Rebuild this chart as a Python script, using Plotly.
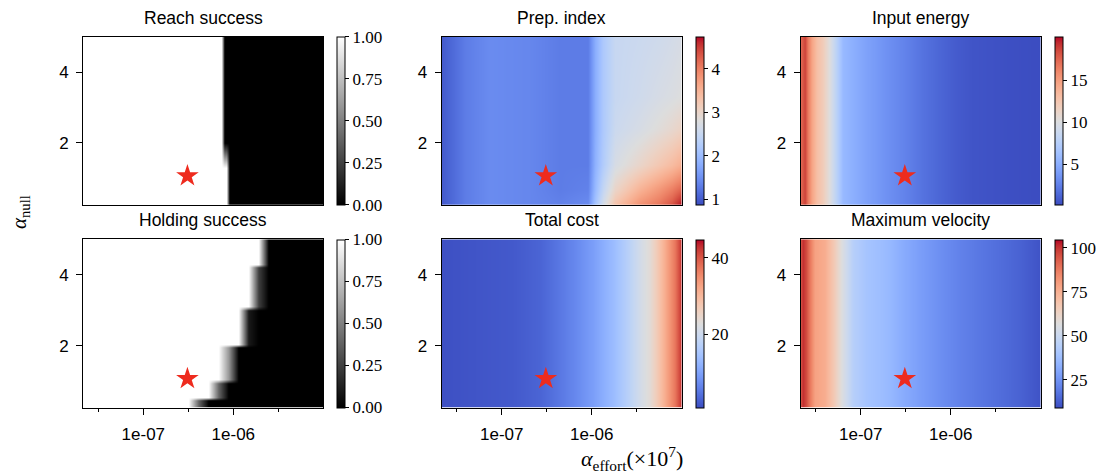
import plotly.graph_objects as go

W, H = 1111, 474

# ---------------- data (x = log10 alpha_effort, y = alpha_null) ----------------
reach_x = [-7.70, -6.135, -6.100, -6.075, -6.045, -4.95]
reach_y = [0.25, 1.30, 2.00, 5.00]
reach_z = [
    [1, 1, 1, 1, 0, 0],
    [1, 1, 1, 1, 0, 0],
    [1, 1, 0, 0, 0, 0],
    [1, 1, 0, 0, 0, 0],
]

hold_x = [-7.611, -7.500, -7.389, -7.278, -7.167, -7.056, -6.944, -6.833,
          -6.722, -6.611, -6.500, -6.389, -6.278, -6.167, -6.056, -5.944,
          -5.833, -5.722, -5.611, -5.500, -5.389, -5.278, -5.167, -5.056]
hold_y = [0.25, 0.45, 0.55, 0.95, 1.05, 1.95, 2.05, 3.00, 3.10, 4.20, 4.30, 5.00]
hold_z = [
    [1, 1, 1, 1, 1, 1, 1, 1, 1, 1, 1, 0.4, 0, 0, 0, 0, 0, 0, 0, 0, 0, 0, 0, 0],
    [1, 1, 1, 1, 1, 1, 1, 1, 1, 1, 1, 0.4, 0, 0, 0, 0, 0, 0, 0, 0, 0, 0, 0, 0],
    [1, 1, 1, 1, 1, 1, 1, 1, 1, 1, 1, 1, 1, 0.4, 0, 0, 0, 0, 0, 0, 0, 0, 0, 0],
    [1, 1, 1, 1, 1, 1, 1, 1, 1, 1, 1, 1, 1, 0.4, 0, 0, 0, 0, 0, 0, 0, 0, 0, 0],
    [1, 1, 1, 1, 1, 1, 1, 1, 1, 1, 1, 1, 1, 1, 0.6, 0, 0, 0, 0, 0, 0, 0, 0, 0],
    [1, 1, 1, 1, 1, 1, 1, 1, 1, 1, 1, 1, 1, 1, 0.6, 0, 0, 0, 0, 0, 0, 0, 0, 0],
    [1, 1, 1, 1, 1, 1, 1, 1, 1, 1, 1, 1, 1, 1, 1, 1, 0.1, 0, 0, 0, 0, 0, 0, 0],
    [1, 1, 1, 1, 1, 1, 1, 1, 1, 1, 1, 1, 1, 1, 1, 1, 0.1, 0, 0, 0, 0, 0, 0, 0],
    [1, 1, 1, 1, 1, 1, 1, 1, 1, 1, 1, 1, 1, 1, 1, 1, 1, 0.25, 0, 0, 0, 0, 0, 0],
    [1, 1, 1, 1, 1, 1, 1, 1, 1, 1, 1, 1, 1, 1, 1, 1, 1, 0.25, 0, 0, 0, 0, 0, 0],
    [1, 1, 1, 1, 1, 1, 1, 1, 1, 1, 1, 1, 1, 1, 1, 1, 1, 1, 0, 0, 0, 0, 0, 0],
    [1, 1, 1, 1, 1, 1, 1, 1, 1, 1, 1, 1, 1, 1, 1, 1, 1, 1, 0, 0, 0, 0, 0, 0],
]

prep_x = [-7.663, -7.574, -7.408, -7.130, -6.686, -6.352, -6.041,
          -5.963, -5.874, -5.741, -5.463, -5.241, -5.108, -5.008]
prep_y = [0.25, 0.70, 1.40, 2.40, 3.30, 5.00]
prep_z = [
    [1.00, 1.10, 1.30, 1.45, 1.40, 1.35, 1.45, 2.10, 2.65, 3.30, 3.85, 4.10, 4.35, 4.72],
    [1.00, 1.10, 1.30, 1.45, 1.40, 1.30, 1.35, 1.95, 2.45, 3.00, 3.50, 3.80, 4.00, 4.20],
    [1.00, 1.10, 1.30, 1.45, 1.40, 1.30, 1.30, 1.85, 2.25, 2.70, 3.00, 3.25, 3.40, 3.55],
    [1.00, 1.10, 1.30, 1.45, 1.40, 1.30, 1.30, 1.80, 2.20, 2.55, 2.70, 2.85, 2.95, 3.05],
    [1.00, 1.10, 1.30, 1.45, 1.40, 1.30, 1.30, 1.80, 2.20, 2.50, 2.60, 2.70, 2.75, 2.80],
    [1.00, 1.10, 1.30, 1.45, 1.40, 1.30, 1.30, 1.80, 2.20, 2.50, 2.55, 2.60, 2.65, 2.70],
]

energy_x = [-7.663, -7.624, -7.586, -7.541, -7.486, -7.419, -7.341, -7.274,
            -7.197, -7.063, -6.897, -6.674, -6.485, -6.308, -6.119, -5.930,
            -5.752, -5.374, -4.997]
energy_v = [17.4, 18.8, 16.6, 14.6, 13.0, 12.0, 10.0, 8.0,
            5.8, 5.0, 4.2, 3.3, 2.6, 1.9, 1.3, 0.8,
            0.5, 0.28, 0.15]

cost_x = [-7.663, -7.241, -6.874, -6.574, -6.430, -6.208, -5.986, -5.763,
          -5.608, -5.463, -5.352, -5.274, -5.186, -5.074, -4.997]
cost_v = [1.2, 1.7, 2.1, 3.2, 4.5, 6.7, 9.6, 13.6,
          17.1, 21.0, 23.7, 27.2, 31.6, 37.3, 43.5]

vel_x = [-7.663, -7.641, -7.608, -7.563, -7.508, -7.397, -7.308, -7.197,
         -7.086, -6.930, -6.786, -6.674, -6.563, -6.341, -6.119, -5.897,
         -5.674, -5.452, -5.230, -4.997]
vel_v = [96, 101, 97, 88, 79, 76, 68, 55,
         45, 40, 38, 36, 33, 28.4, 24.6, 21.2,
         18.8, 16.5, 14.1, 10.8]

flat_y = [0.25, 5.00]

star_x = [-6.51]
star_y = [1.07]

titles = ["Reach success", "Prep. index", "Input energy",
          "Holding success", "Total cost", "Maximum velocity"]
zranges = [(0, 1), (0.87, 4.74), (0.12, 20.2), (0, 1), (0.8, 44.8), (9.3, 104.8)]
cbar_ticks = [[0, 0.25, 0.5, 0.75, 1.0], [1, 2, 3, 4], [5, 10, 15],
              [0, 0.25, 0.5, 0.75, 1.0], [20, 40], [25, 50, 75, 100]]
cbar_text = [["0.00", "0.25", "0.50", "0.75", "1.00"], ["1", "2", "3", "4"],
             ["5", "10", "15"], ["0.00", "0.25", "0.50", "0.75", "1.00"],
             ["20", "40"], ["25", "50", "75", "100"]]
x_tickvals = [-7, -6]
x_ticktext = ["1e-07", "1e-06"]
y_tickvals = [2, 4]
y_ticktext = ["2", "4"]
X_RANGE = [-7.667, -5.0]
Y_RANGE = [0.25, 5.0]

# ---------------- colormaps ----------------
coolwarm_rgb = [
    (59, 76, 192), (68, 90, 204), (77, 104, 215), (87, 117, 225), (98, 130, 234),
    (108, 142, 241), (119, 154, 247), (130, 165, 251), (141, 176, 254), (152, 185, 255),
    (163, 194, 255), (174, 201, 253), (184, 208, 249), (194, 213, 244), (204, 217, 238),
    (213, 219, 230), (221, 221, 221), (229, 216, 209), (236, 211, 197), (241, 204, 185),
    (245, 196, 173), (247, 187, 160), (247, 177, 148), (247, 166, 135), (244, 154, 123),
    (241, 141, 111), (236, 127, 99), (229, 112, 88), (222, 96, 77), (213, 80, 66),
    (203, 62, 56), (192, 40, 47), (180, 4, 38)]
coolwarm = [[i / (len(coolwarm_rgb) - 1), "rgb(%d,%d,%d)" % c] for i, c in enumerate(coolwarm_rgb)]
gray = [[0, "rgb(0,0,0)"], [1, "rgb(255,255,255)"]]

# ---------------- layout geometry (pixels) ----------------
COLS = [(83.3, 323.3), (441.7, 681.7), (800.7, 1040.7)]
ROWS = [(36.7, 205.0), (239.3, 407.7)]
CBAR_X = [336.7, 696.0, 1055.0]

panels = [
    (reach_x, reach_y, reach_z, gray),
    (prep_x, prep_y, prep_z, coolwarm),
    (energy_x, flat_y, [energy_v, energy_v], coolwarm),
    (hold_x, hold_y, hold_z, gray),
    (cost_x, flat_y, [cost_v, cost_v], coolwarm),
    (vel_x, flat_y, [vel_v, vel_v], coolwarm),
]

SANS = "Liberation Sans"
SERIF = "Liberation Serif"

fig = go.Figure()
annotations = []
for i, (px_, py_, pz, cs) in enumerate(panels):
    r, c = divmod(i, 3)
    n = i + 1
    xa = "x" if n == 1 else "x%d" % n
    ya = "y" if n == 1 else "y%d" % n
    x0, x1 = COLS[c]
    y0, y1 = ROWS[r]
    zmin, zmax = zranges[i]
    fig.add_trace(go.Heatmap(
        x=px_, y=py_, z=pz, zsmooth="best", colorscale=cs, zmin=zmin, zmax=zmax,
        xaxis=xa, yaxis=ya, hoverinfo="skip",
        colorbar=dict(
            x=CBAR_X[c] / W, xanchor="left", xpad=0, ypad=0,
            y=1 - (y0 + y1) / 2 / H, yanchor="middle",
            len=(y1 - y0) / H, lenmode="fraction",
            thickness=8, thicknessmode="pixels",
            outlinewidth=1, outlinecolor="black",
            ticks="outside", ticklen=4, tickwidth=1, tickcolor="black",
            tickmode="array", tickvals=cbar_ticks[i], ticktext=cbar_text[i],
            tickfont=dict(family=SERIF, size=17, color="black"),
        ),
    ))
    fig.add_trace(go.Scatter(
        x=star_x, y=star_y, mode="markers", xaxis=xa, yaxis=ya,
        marker=dict(symbol="star", size=17, color="#ee2b1e", line=dict(width=0)),
        hoverinfo="skip", showlegend=False,
    ))
    xkey = "xaxis" if n == 1 else "xaxis%d" % n
    ykey = "yaxis" if n == 1 else "yaxis%d" % n
    xdict = dict(domain=[x0 / W, x1 / W], range=X_RANGE, anchor=ya,
                 showline=True, mirror=True, linecolor="black", linewidth=1.3,
                 showgrid=False, zeroline=False)
    if r == 1:
        xdict.update(ticks="outside", ticklen=6, tickwidth=1, tickcolor="black",
                     tickmode="array", tickvals=x_tickvals, ticktext=x_ticktext,
                     tickfont=dict(family=SANS, size=17, color="black"),
                     ticklabelstandoff=5,
                     minor=dict(ticks="outside", ticklen=3.5, tickwidth=1,
                                tickcolor="black", tick0=-7.5, dtick=1))
    else:
        xdict.update(ticks="", showticklabels=False)
    ydict = dict(domain=[1 - y1 / H, 1 - y0 / H], range=Y_RANGE, anchor=xa,
                 showline=True, mirror=True, linecolor="black", linewidth=1.3,
                 showgrid=False, zeroline=False,
                 ticks="outside", ticklen=6, tickwidth=1, tickcolor="black",
                 tickmode="array", tickvals=y_tickvals, ticktext=y_ticktext,
                 tickfont=dict(family=SANS, size=17, color="black"),
                 ticklabelstandoff=4)
    fig.update_layout({xkey: xdict, ykey: ydict})
    annotations.append(dict(
        text=titles[i], x=(x0 + x1) / 2 / W, y=1 - y0 / H, xref="paper", yref="paper",
        xanchor="center", yanchor="bottom", yshift=7, showarrow=False,
        font=dict(family=SANS, size=17.5, color="black")))

annotations.append(dict(
    text="<i>α</i><sub>null</sub>", x=20 / W, y=1 - 212 / H, xref="paper", yref="paper",
    xanchor="center", yanchor="middle", textangle=-90, showarrow=False,
    font=dict(family=SERIF, size=21, color="black")))
annotations.append(dict(
    text="<i>α</i><sub>effort</sub>(×10<sup>7</sup>)", x=632 / W, y=1 - 458 / H,
    xref="paper", yref="paper", xanchor="center", yanchor="middle", showarrow=False,
    font=dict(family=SERIF, size=22, color="black")))

fig.update_layout(
    width=W, height=H, margin=dict(l=0, r=0, t=0, b=0),
    paper_bgcolor="white", plot_bgcolor="white", showlegend=False,
    annotations=annotations,
)

fig.write_html("out.html", config={"displayModeBar": False},
               post_script="document.body.style.margin='0';document.body.style.overflow='hidden';")
